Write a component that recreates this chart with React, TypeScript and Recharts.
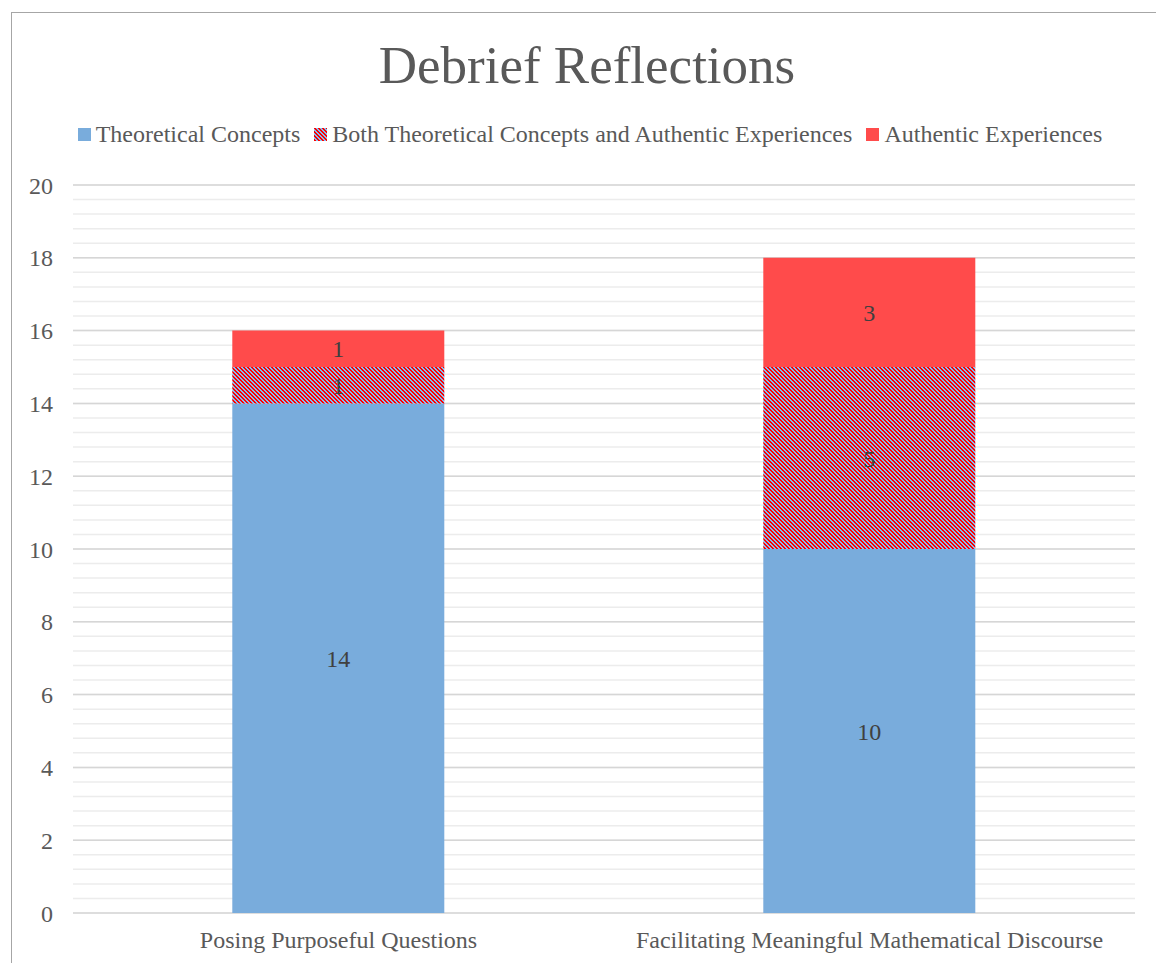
import { Bar, BarChart, CartesianGrid, LabelList, Legend, XAxis, YAxis } from "recharts";

const categories = ["Posing Purposeful Questions", "Facilitating Meaningful Mathematical Discourse"];
const theoretical = [14, 10];
const both = [1, 5];
const authentic = [1, 3];
const yTicks = [0, 2, 4, 6, 8, 10, 12, 14, 16, 18, 20];

const seriesNames = [
  "Theoretical Concepts",
  "Both Theoretical Concepts and Authentic Experiences",
  "Authentic Experiences",
];

const data = categories.map((name, i) => ({
  name,
  theoretical: theoretical[i],
  both: both[i],
  authentic: authentic[i],
}));

// minor gridlines every 0.4
const minorTicks = Array.from({ length: 51 }, (_, i) => Math.round(i * 4) / 10);

const FONT = '"Liberation Serif", "Times New Roman", serif';
const BLUE = "#79acdc";
const RED = "#ff4b4b";
const HATCH_RED = "#ff0000";
const HATCH_BLUE = "#86bdf0";

// 4x4 pixel pattern with downward diagonal stripes
const hatchCells: [number, number][] = [];
for (let y = 0; y < 4; y++) {
  for (let x = 0; x < 4; x++) {
    if ((((x - y) % 4) + 4) % 4 < 2) hatchCells.push([x, y]);
  }
}

function HatchPattern({ id }: { id: string }) {
  return (
    <pattern id={id} patternUnits="userSpaceOnUse" width={4} height={4}>
      <rect width={4} height={4} fill={HATCH_BLUE} shapeRendering="crispEdges" />
      {hatchCells.map(([x, y]) => (
        <rect key={`${x}-${y}`} x={x} y={y} width={1} height={1} fill={HATCH_RED} shapeRendering="crispEdges" />
      ))}
    </pattern>
  );
}

function minorLines({ yAxis }: any) {
  const scale = yAxis?.scale;
  if (!scale) return [];
  const map = typeof scale === "function" ? scale : scale.map?.bind(scale);
  if (!map) return [];
  return minorTicks.map((v) => map(v));
}

function LegendContent() {
  const swatches = [BLUE, "url(#hatchLegend)", RED];
  return (
    <div
      style={{
        display: "flex",
        justifyContent: "center",
        alignItems: "center",
        height: 32,
        fontFamily: FONT,
        fontSize: 24,
        color: "#595959",
        whiteSpace: "nowrap",
      }}
    >
      {seriesNames.map((name, i) => (
        <div key={name} style={{ display: "flex", alignItems: "center", marginRight: i < 2 ? 14 : 0 }}>
          <svg width={13} height={13} style={{ marginRight: 5 }}>
            {i === 1 && (
              <defs>
                <HatchPattern id="hatchLegend" />
              </defs>
            )}
            <rect width={13} height={13} fill={swatches[i]} />
          </svg>
          <span>{name}</span>
        </div>
      ))}
    </div>
  );
}

export default function App() {
  return (
    <div
      style={{
        position: "absolute",
        left: 0,
        top: 0,
        width: 1156,
        height: 963,
        overflow: "hidden",
        background: "#fff",
      }}
    >
      <div
        style={{
          position: "absolute",
          left: 11,
          top: 12,
          width: 1300,
          height: 1100,
          borderLeft: "1px solid #a6a6a6",
          borderTop: "1px solid #a6a6a6",
        }}
      />
      <div
        style={{
          position: "absolute",
          left: 0,
          top: 35,
          width: 1174,
          textAlign: "center",
          fontFamily: FONT,
          fontSize: 53,
          color: "#595959",
          lineHeight: "normal",
        }}
      >
        Debrief Reflections
      </div>
      <div style={{ position: "absolute", left: 0, top: 0 }}>
        <BarChart
          width={1156}
          height={963}
          data={data}
          barCategoryGap="30%"
          margin={{ top: 153, right: 21, bottom: 0, left: 0 }}
        >
          <defs>
            <HatchPattern id="hatchBar" />
          </defs>
          <CartesianGrid
            vertical={false}
            horizontalCoordinatesGenerator={minorLines}
            stroke="#ececec"
            strokeWidth={1.5}
          />
          <CartesianGrid vertical={false} stroke="#d6d6d6" strokeWidth={1.5} />
          <XAxis
            dataKey="name"
            height={50}
            axisLine={false}
            tickLine={false}
            tickSize={0}
            tickMargin={18}
            tick={{ fontSize: 24, fill: "#595959", fontFamily: FONT }}
          />
          <YAxis
            width={73}
            domain={[0, 20]}
            ticks={yTicks}
            interval={0}
            axisLine={false}
            tickLine={false}
            tickSize={0}
            tickMargin={20}
            tick={{ fontSize: 24, fill: "#595959", fontFamily: FONT }}
          />
          <Legend
            verticalAlign="top"
            content={() => <LegendContent />}
            wrapperStyle={{ top: 118, left: 24, width: 1132 }}
          />
          <Bar dataKey="theoretical" name={seriesNames[0]} stackId="a" fill={BLUE} isAnimationActive={false}>
            <LabelList dataKey="theoretical" position="center" fill="#404040" fontSize={24} fontFamily={FONT} />
          </Bar>
          <Bar dataKey="both" name={seriesNames[1]} stackId="a" fill="url(#hatchBar)" isAnimationActive={false}>
            <LabelList dataKey="both" position="center" fill="#404040" fontSize={24} fontFamily={FONT} />
          </Bar>
          <Bar dataKey="authentic" name={seriesNames[2]} stackId="a" fill={RED} isAnimationActive={false}>
            <LabelList dataKey="authentic" position="center" fill="#404040" fontSize={24} fontFamily={FONT} />
          </Bar>
        </BarChart>
      </div>
    </div>
  );
}
